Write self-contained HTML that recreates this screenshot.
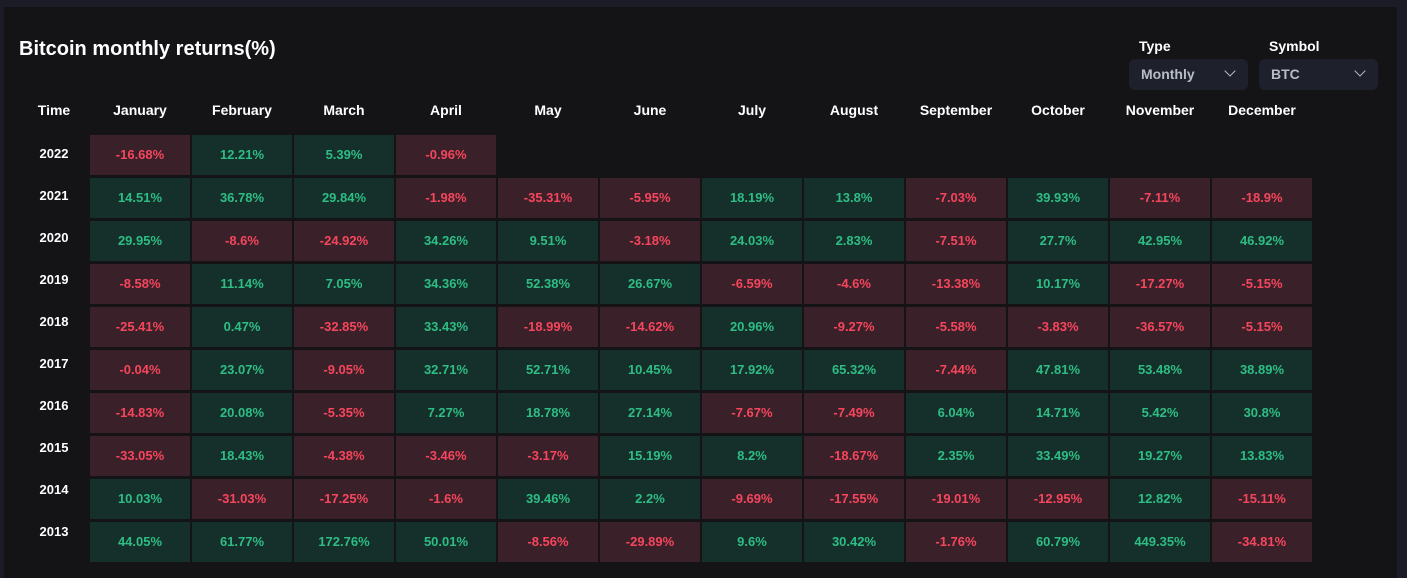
<!DOCTYPE html>
<html><head><meta charset="utf-8"><style>
body{margin:0;width:1407px;height:578px;background:#1b1c25;font-family:"Liberation Sans",sans-serif;overflow:hidden;position:relative}
#panel{position:absolute;left:4px;top:7px;width:1393px;height:571px;background:#141417}
.t{position:absolute;color:#fff;font-weight:bold}
.dd{position:absolute;top:59px;width:119px;height:31px;background:#1e202b;border-radius:6px;color:#b7bdc6;font-weight:bold;font-size:14px}
.dd span{position:absolute;left:12px;top:7px}
.dd i{position:absolute;right:14px;top:8px;width:7px;height:7px;border-right:1.3px solid #b7bdc6;border-bottom:1.3px solid #b7bdc6;transform:rotate(45deg)}
.cell{position:absolute;width:100px;height:40px;font-size:13px;font-weight:bold;text-align:center;line-height:40px}
.r{background:#3a2028;color:#f6465d}.g{background:#15302a;color:#2ebd85}
.hd{position:absolute;top:102px;width:100px;text-align:center;color:#fff;font-weight:bold;font-size:14px}
.yr{position:absolute;left:22px;width:64px;text-align:center;color:#fff;font-weight:bold;font-size:13px}
</style></head><body>
<div id="panel"></div>
<div class="t" style="left:19px;top:38px;font-size:20px">Bitcoin monthly returns(%)</div>
<div class="t" style="left:1139px;top:38px;font-size:14px">Type</div>
<div class="t" style="left:1269px;top:38px;font-size:14px">Symbol</div>
<div class="dd" style="left:1129px"><span>Monthly</span><i></i></div>
<div class="dd" style="left:1259px"><span>BTC</span><i></i></div>
<div class="hd" style="left:4px;width:100px">Time</div>
<div id="grid"></div>
<script>
const months=["January","February","March","April","May","June","July","August","September","October","November","December"];
const years=["2022","2021","2020","2019","2018","2017","2016","2015","2014","2013"];
const values=[
[-16.68,12.21,5.39,-0.96],
[14.51,36.78,29.84,-1.98,-35.31,-5.95,18.19,13.8,-7.03,39.93,-7.11,-18.9],
[29.95,-8.6,-24.92,34.26,9.51,-3.18,24.03,2.83,-7.51,27.7,42.95,46.92],
[-8.58,11.14,7.05,34.36,52.38,26.67,-6.59,-4.6,-13.38,10.17,-17.27,-5.15],
[-25.41,0.47,-32.85,33.43,-18.99,-14.62,20.96,-9.27,-5.58,-3.83,-36.57,-5.15],
[-0.04,23.07,-9.05,32.71,52.71,10.45,17.92,65.32,-7.44,47.81,53.48,38.89],
[-14.83,20.08,-5.35,7.27,18.78,27.14,-7.67,-7.49,6.04,14.71,5.42,30.8],
[-33.05,18.43,-4.38,-3.46,-3.17,15.19,8.2,-18.67,2.35,33.49,19.27,13.83],
[10.03,-31.03,-17.25,-1.6,39.46,2.2,-9.69,-17.55,-19.01,-12.95,12.82,-15.11],
[44.05,61.77,172.76,50.01,-8.56,-29.89,9.6,30.42,-1.76,60.79,449.35,-34.81]];
const g=document.getElementById('grid');
const colX=i=>90+i*102, rowY=j=>135+j*43, labelY=j=>146+j*42;
months.forEach((m,i)=>{const d=document.createElement('div');d.className='hd';d.style.left=colX(i)+'px';d.textContent=m;


g.appendChild(d);});
years.forEach((y,j)=>{const d=document.createElement('div');d.className='yr';d.style.top=labelY(j)+'px';d.textContent=y;


g.appendChild(d);
values[j].forEach((v,i)=>{const c=document.createElement('div');c.className='cell '+(v<0?'r':'g');
c.style.left=colX(i)+'px';c.style.top=rowY(j)+'px';c.textContent=v+'%';


g.appendChild(c);});});
</script>
</body></html>
